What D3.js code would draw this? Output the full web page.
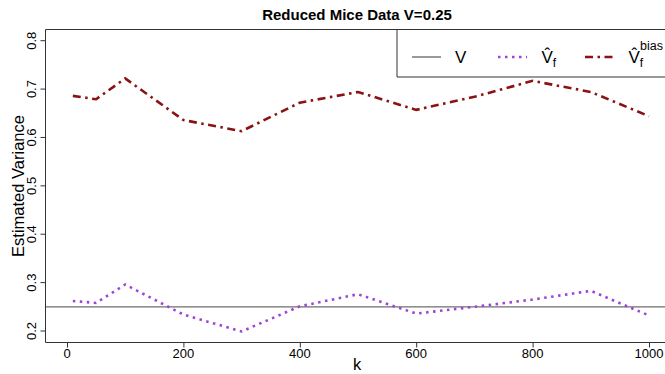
<!DOCTYPE html>
<html>
<head>
<meta charset="utf-8">
<script src="https://cdn.jsdelivr.net/npm/d3@7"></script>
<style>
  body { margin: 0; background: #fff; }
  svg { font-family: "Liberation Sans", Arial, sans-serif; display: block; }
</style>
</head>
<body>
<div id="chart"></div>
<script>
const width = 665;
const height = 374;

// data
const kValues = [10, 50, 100, 200, 300, 400, 500, 600, 700, 800, 900, 1000];
const vhatF = [0.262, 0.258, 0.296, 0.234, 0.199, 0.251, 0.276, 0.236, 0.250, 0.265, 0.283, 0.232];
const vhatBias = [0.686, 0.679, 0.722, 0.636, 0.613, 0.672, 0.694, 0.657, 0.684, 0.717, 0.694, 0.644];
const trueV = 0.25;
const xTicks = [0, 200, 400, 600, 800, 1000];
const yTicks = [0.2, 0.3, 0.4, 0.5, 0.6, 0.7, 0.8];

const BOX = { left: 45.5, top: 29.5, bottom: 342.5, right: 672 };
const TICK_LEN = 5;
const V_COLOR = '#6e6e6e';
const F_COLOR = '#9a45d6';
const BIAS_COLOR = '#8b1212';

const x = d3.scaleLinear().domain([0, 1000]).range([67, 649]);
const y = d3.scaleLinear().domain([0.2, 0.8]).range([331, 40.7]);

const svg = d3.select('#chart')
  .append('svg')
  .attr('width', width)
  .attr('height', height);

// title
svg.append('text')
  .attr('x', 357)
  .attr('y', 20)
  .attr('text-anchor', 'middle')
  .attr('font-weight', 'bold')
  .attr('font-size', 15)
  .text('Reduced Mice Data V=0.25');

// true V line
svg.append('line')
  .attr('x1', BOX.left).attr('x2', BOX.right)
  .attr('y1', y(trueV)).attr('y2', y(trueV))
  .attr('stroke', V_COLOR)
  .attr('stroke-width', 1.2);

const line = d3.line()
  .x((d) => x(d[0]))
  .y((d) => y(d[1]));

svg.append('path')
  .datum(kValues.map((k, i) => [k, vhatF[i]]))
  .attr('d', line)
  .attr('fill', 'none')
  .attr('stroke', F_COLOR)
  .attr('stroke-width', 2.6)
  .attr('stroke-dasharray', '2.5,4.5');

svg.append('path')
  .datum(kValues.map((k, i) => [k, vhatBias[i]]))
  .attr('d', line)
  .attr('fill', 'none')
  .attr('stroke', BIAS_COLOR)
  .attr('stroke-width', 2.6)
  .attr('stroke-dasharray', '8,4.5,2.5,4.5');

// box (right side is cut off by the frame)
svg.append('path')
  .attr('d', `M${BOX.right},${BOX.top}H${BOX.left}V${BOX.bottom}H${BOX.right}`)
  .attr('fill', 'none')
  .attr('stroke', '#333')
  .attr('stroke-width', 1);

// x axis, R style
const xAxis = svg.append('g');
xAxis.append('line')
  .attr('x1', x(0)).attr('x2', x(1000))
  .attr('y1', BOX.bottom).attr('y2', BOX.bottom)
  .attr('stroke', '#333');
xAxis.selectAll('line.tick')
  .data(xTicks)
  .enter().append('line')
    .attr('class', 'tick')
    .attr('x1', (d) => x(d) + 0.5).attr('x2', (d) => x(d) + 0.5)
    .attr('y1', BOX.bottom).attr('y2', BOX.bottom + TICK_LEN)
    .attr('stroke', '#333');
xAxis.selectAll('text')
  .data(xTicks)
  .enter().append('text')
    .attr('x', (d) => x(d))
    .attr('y', 358)
    .attr('text-anchor', 'middle')
    .attr('font-size', 13)
    .text((d) => d);

svg.append('text')
  .attr('x', 357)
  .attr('y', 370)
  .attr('text-anchor', 'middle')
  .attr('font-size', 16.5)
  .text('k');

// y axis, labels parallel to the axis
const yAxis = svg.append('g');
yAxis.append('line')
  .attr('x1', BOX.left).attr('x2', BOX.left)
  .attr('y1', y(0.2)).attr('y2', y(0.8))
  .attr('stroke', '#333');
yAxis.selectAll('line.tick')
  .data(yTicks)
  .enter().append('line')
    .attr('class', 'tick')
    .attr('x1', BOX.left - TICK_LEN).attr('x2', BOX.left)
    .attr('y1', (d) => y(d)).attr('y2', (d) => y(d))
    .attr('stroke', '#333');
yAxis.selectAll('text')
  .data(yTicks)
  .enter().append('text')
    .attr('transform', (d) => `translate(35.5, ${y(d)}) rotate(-90)`)
    .attr('text-anchor', 'middle')
    .attr('font-size', 13)
    .text((d) => d3.format('.1f')(d));

svg.append('text')
  .attr('transform', 'translate(24, 186) rotate(-90)')
  .attr('text-anchor', 'middle')
  .attr('font-size', 16.5)
  .text('Estimated Variance');

// legend
const legend = svg.append('g');
legend.append('path')
  .attr('d', `M${BOX.right},77H397V${BOX.top}`)
  .attr('fill', 'none')
  .attr('stroke', '#333');

const LEG_Y = 57;
const legendItems = [
  { x0: 412, color: V_COLOR, dash: null, width: 1.4 },
  { x0: 498, color: F_COLOR, dash: '2.5,4.5', width: 2.6 },
  { x0: 585, color: BIAS_COLOR, dash: '8,4.5,2.5,4.5', width: 2.6 }
];
legend.selectAll('line')
  .data(legendItems)
  .enter().append('line')
    .attr('x1', (d) => d.x0).attr('x2', (d) => d.x0 + 29)
    .attr('y1', LEG_Y).attr('y2', LEG_Y)
    .attr('stroke', (d) => d.color)
    .attr('stroke-width', (d) => d.width)
    .attr('stroke-dasharray', (d) => d.dash);

legend.append('text')
  .attr('x', 455).attr('y', 63)
  .attr('font-size', 17)
  .text('V');

// V hat with subscript f (and optional superscript), as one text
function hatV(x0, sup) {
  const t = legend.append('text')
    .attr('x', x0).attr('y', 63)
    .attr('font-size', 17);
  t.append('tspan').text('V\u0302');
  t.append('tspan')
    .attr('font-size', 12)
    .attr('dy', 4)
    .text('f');
  if (sup) {
    t.append('tspan')
      .attr('x', x0 + 11.5)
      .attr('dy', -17)
      .attr('font-size', 12.5)
      .text(sup);
  }
}
hatV(541.5, null);
hatV(628.5, 'bias');
</script>
</body>
</html>
